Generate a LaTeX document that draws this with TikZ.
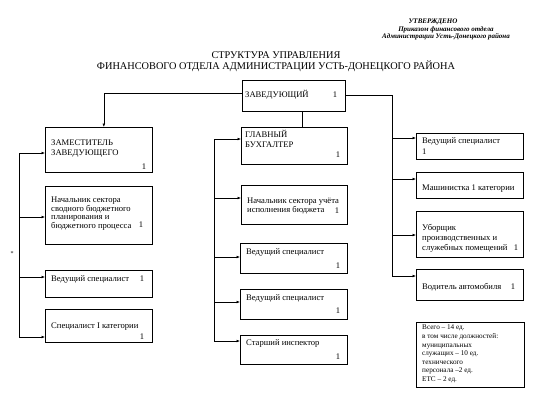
\documentclass[tikz,border=0pt]{standalone}
\usepackage{fontspec}
\setmainfont{Liberation Serif}
\usetikzlibrary{arrows.meta}
\begin{document}
\begin{tikzpicture}[x=1pt,y=-1pt,
  box/.style={draw, line width=0.7pt, inner sep=0pt, anchor=north west},
  headbox/.style={box, line width=1.3pt},
  txt/.style={font=\fontsize{8.6}{9}\selectfont, inner sep=0pt, align=left, anchor=west},
  num/.style={font=\fontsize{8.6}{9}\selectfont, inner sep=0pt},
  conn/.style={line width=0.6pt},
  arr/.style={conn, -{Latex[length=3.5pt,width=2.8pt]}}]
\useasboundingbox (0,0) rectangle (550,400);
\fill[white] (0,0) rectangle (550,400);

% header
\node[font=\fontsize{7}{7.5}\selectfont\bfseries\itshape, inner sep=0pt] (h1) at (433,22) {УТВЕРЖДЕНО};
\node[font=\fontsize{7}{7.5}\selectfont\bfseries\itshape, inner sep=0pt] (h2) at (446,29.5) {Приказом финансового отдела};
\node[font=\fontsize{7}{7.5}\selectfont\bfseries\itshape, inner sep=0pt] (h3) at (446,37) {Администрации Усть-Донецкого района};

% title
\node[font=\fontsize{10.3}{11}\selectfont, inner sep=0pt, align=center] (title) at (276,61.5) {СТРУКТУРА УПРАВЛЕНИЯ\\ФИНАНСОВОГО ОТДЕЛА АДМИНИСТРАЦИИ УСТЬ-ДОНЕЦКОГО РАЙОНА};

% head
\node[headbox, minimum width=103pt, minimum height=31pt] (H) at (242,80) {};
\node[txt] (Ht) at (245,95) {ЗАВЕДУЮЩИЙ};
\node[num] (Hn) at (335,95) {1};

% left column
\node[box, minimum width=107pt, minimum height=45pt] (L1) at (45,127) {};
\node[txt, font=\fontsize{8.6}{9.2}\selectfont] (L1t) at (51,148.5) {ЗАМЕСТИТЕЛЬ\\ЗАВЕДУЮЩЕГО};
\node[num] (L1n) at (144,167) {1};

\node[box, minimum width=107pt, minimum height=58pt] (L2) at (45,186) {};
\node[txt, font=\fontsize{8.6}{7.8}\selectfont] (L2t) at (51,213.5) {Начальник сектора\\сводного бюджетного\\планирования и\\бюджетного процесса};
\node[num] (L2n) at (141,225) {1};

\node[box, minimum width=107pt, minimum height=27pt] (L3) at (45,270) {};
\node[txt] (L3t) at (51,279) {Ведущий специалист};
\node[num] (L3n) at (142,279) {1};

\node[box, minimum width=107pt, minimum height=33pt] (L4) at (45,309) {};
\node[txt] (L4t) at (51,327) {Специалист I категории};
\node[num] (L4n) at (142,337) {1};

% middle column
\node[box, minimum width=106pt, minimum height=37pt] (M1) at (241,127) {};
\node[txt, font=\fontsize{8.6}{10}\selectfont] (M1t) at (245,139) {ГЛАВНЫЙ\\БУХГАЛТЕР};
\node[num] (M1n) at (338,155) {1};

\node[box, minimum width=106pt, minimum height=39pt] (M2) at (241,185) {};
\node[txt] (M2t) at (247,206.5) {Начальник сектора учёта\\исполнения бюджета};
\node[num] (M2n) at (337,211) {1};

\node[box, minimum width=107pt, minimum height=30pt] (M3) at (240,243) {};
\node[txt] (M3t) at (246,252) {Ведущий специалист};
\node[num] (M3n) at (338,266) {1};

\node[box, minimum width=107pt, minimum height=30pt] (M4) at (240,289) {};
\node[txt] (M4t) at (246,298) {Ведущий специалист};
\node[num] (M4n) at (338,311) {1};

\node[box, minimum width=107pt, minimum height=29pt] (M5) at (240,335) {};
\node[txt] (M5t) at (246,343) {Старший инспектор};
\node[num] (M5n) at (338,357) {1};

% right column
\node[box, minimum width=107pt, minimum height=26pt] (R1) at (416,133) {};
\node[txt, font=\fontsize{8.6}{11}\selectfont] (R1t) at (422,146.5) {Ведущий специалист\\1};

\node[box, minimum width=107pt, minimum height=26pt] (R2) at (416,172) {};
\node[txt] (R2t) at (422,189) {Машинистка 1 категории};

\node[box, minimum width=107pt, minimum height=46pt] (R3) at (416,211) {};
\node[txt, font=\fontsize{8.6}{10}\selectfont] (R3t) at (422,238) {Уборщик\\производственных и\\служебных помещений};
\node[num] (R3n) at (516,248) {1};

\node[box, minimum width=107pt, minimum height=31pt] (R4) at (416,269) {};
\node[txt] (R4t) at (422,287) {Водитель автомобиля};
\node[num] (R4n) at (513,287) {1};

% summary
\node[box, minimum width=108pt, minimum height=65pt] (S) at (416,322) {};
\node[txt, font=\fontsize{7.2}{8.6}\selectfont] (St) at (422,354) {Всего – 14 ед.\\в том числе должностей:\\муниципальных\\служащих – 10 ед.\\технического\\персонала –2 ед.\\ЕТС – 2 ед.};

% mark
\node[font=\fontsize{6}{6}\selectfont, inner sep=0pt] (ast) at (12,254) {*};

% connectors from head
\draw[arr] (H.west |- 0,93) -| ([xshift=5pt]L1.north);
\draw[conn] ([xshift=8.5pt]H.south) -- ([xshift=8.5pt]H.south |- M1.north);
\coordinate (rt) at (392,95);
\coordinate (rb) at (392,276);
\draw[conn] (H.east |- rt) -- (rt) -- (rb);
\draw[arr] (rb) -- (rb -| R4.west);
\coordinate (r1) at (392,138);
\coordinate (r2) at (392,179);
\coordinate (r3) at (393,235);
\draw[arr] (r1) -- (r1 -| R1.west);
\draw[arr] (r2) -- (r2 -| R2.west);
\draw[arr] (r3) -- (r3 -| R3.west);

% left bracket
\coordinate (la) at (19,153);
\coordinate (l2) at (19,217);
\coordinate (l3) at (19,277);
\coordinate (lb) at (19,337);
\draw[conn] (la) -- (lb);
\draw[arr] (la) -- (la -| L1.west);
\draw[arr] (l2) -- (l2 -| L2.west);
\draw[arr] (l3) -- (l3 -| L3.west);
\draw[arr] (lb) -- (lb -| L4.west);

% middle bracket
\coordinate (ma) at (214,139);
\coordinate (m2) at (214,198);
\coordinate (m3) at (214,257);
\coordinate (m4) at (214,302);
\coordinate (mb) at (214,341);
\draw[conn] (ma) -- (mb);
\draw[arr] (ma) -- (ma -| M1.west);
\draw[arr] (m2) -- (m2 -| M2.west);
\draw[arr] (m3) -- (m3 -| M3.west);
\draw[arr] (m4) -- (m4 -| M4.west);
\draw[arr] (mb) -- (mb -| M5.west);
\end{tikzpicture}
\end{document}
